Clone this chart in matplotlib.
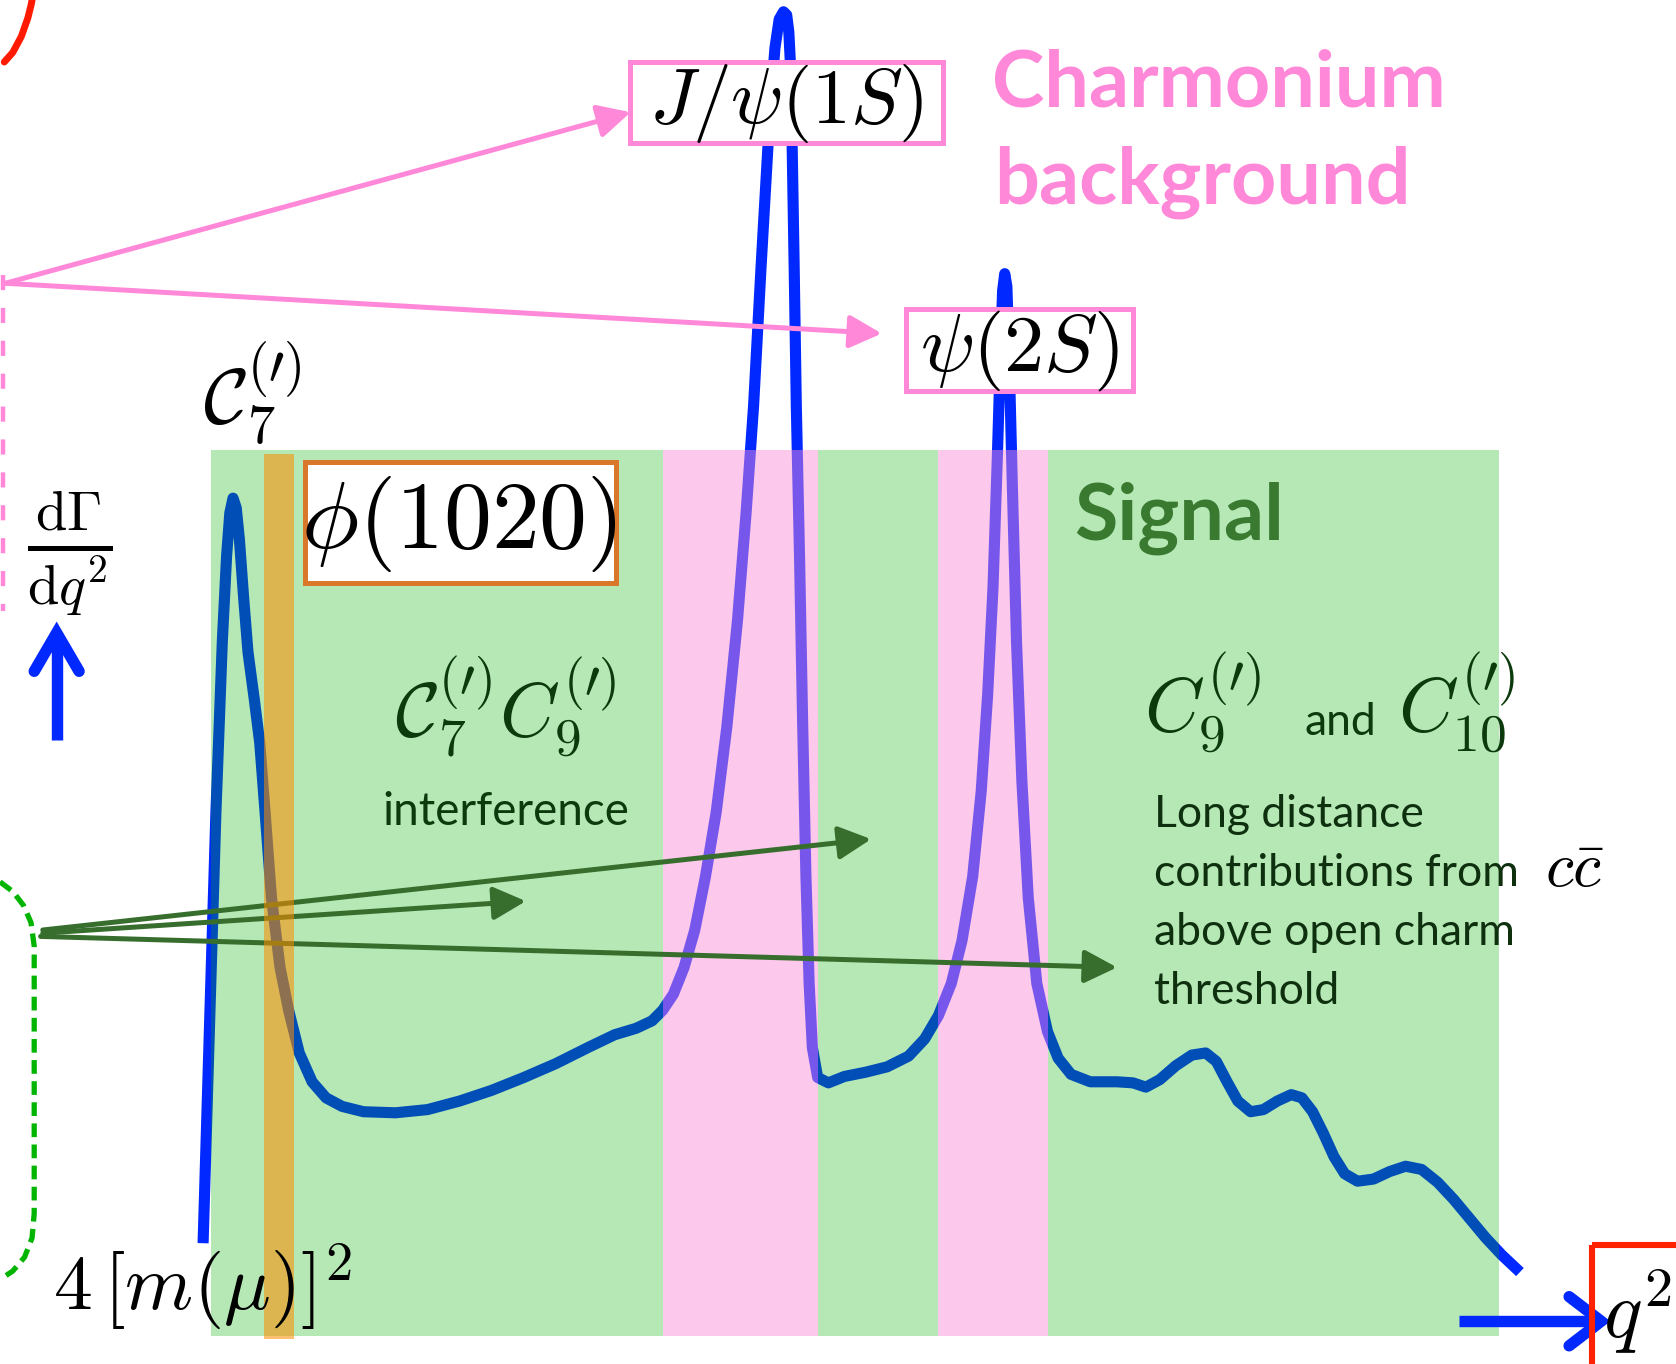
import matplotlib
matplotlib.use('Agg')
import matplotlib.pyplot as plt
from matplotlib.patches import Rectangle

plt.rcParams['mathtext.fontset'] = 'cm'

# canvas units (reference pixels, 1568 x 1276 view)
W, H = 1568, 1276

# ---- data: schematic dGamma/dq2 curve ----
curve_x = [190, 196, 202, 208, 212, 215, 218, 221, 224, 228, 232, 238, 243, 248, 254, 262,
           270, 280, 292, 305, 320, 340, 370, 400, 430, 460, 490, 520, 550, 575, 595, 610,
           620, 630, 640, 650, 660, 670, 680, 690, 698, 705, 712, 720, 725, 729, 733, 736,
           738, 740, 741, 743, 745, 748, 751, 754, 757, 760, 765, 775, 790, 810, 830, 850,
           865, 878, 890, 900, 910, 918, 924, 929, 933, 936, 938, 940, 942, 944, 947, 951,
           956, 962, 970, 980, 990, 1002, 1020, 1045, 1060, 1072, 1085, 1100, 1115, 1128,
           1138, 1148, 1158, 1170, 1182, 1195, 1208, 1218, 1228, 1238, 1248, 1258, 1270,
           1285, 1300, 1315, 1330, 1345, 1360, 1375, 1390, 1405, 1422]
curve_y = [1163, 960, 760, 600, 520, 480, 466, 475, 505, 560, 610, 655, 695, 760, 840, 905,
           945, 985, 1012, 1027, 1035, 1040, 1041, 1038, 1030, 1020, 1008, 995, 980, 968, 962, 955,
           945, 930, 905, 870, 820, 760, 680, 580, 480, 380, 250, 110, 45, 18, 11, 14,
           30, 70, 130, 250, 380, 520, 680, 820, 920, 980, 1008, 1013, 1007, 1003, 998, 988,
           972, 950, 920, 880, 820, 740, 650, 550, 430, 330, 272, 256, 268, 330, 450, 600,
           730, 840, 920, 965, 990, 1005, 1012, 1012, 1013, 1017, 1010, 997, 987, 985,
           993, 1012, 1030, 1040, 1038, 1030, 1024, 1027, 1040, 1060, 1082, 1098, 1105,
           1103, 1096, 1091, 1094, 1106, 1122, 1140, 1158, 1174, 1190]

# ---- data: q2 regions ----
green_bands = [(197, 620), (765, 878), (980, 1402)]
pink_bands = [(620, 765), (878, 980)]
band_top, band_bottom = 421, 1250
orange_band = (247, 275)
orange_top, orange_bottom = 425, 1253

# ---- labels ----
title_lines = ['Charmonium', 'background']
signal_label = 'Signal'
ld_lines = ['Long distance', 'contributions from', 'above open charm', 'threshold']

fig = plt.figure(figsize=(16.76, 13.64), dpi=100)
ax = fig.add_axes([0, 0, 1, 1])
ax.set_xlim(0, W)
ax.set_ylim(H, 0)
ax.axis('off')

BLUE = '#0028FF'
PINK = '#FF88D8'
DGREEN = '#376E2D'
TXTGREEN = '#0C3A0C'

# curve
ax.plot(curve_x, curve_y, color=BLUE, lw=8.0, solid_capstyle='butt',
        solid_joinstyle='round', zorder=2)

# bands
for x0, x1 in green_bands:
    ax.add_patch(Rectangle((x0, band_top), x1 - x0, band_bottom - band_top,
                           facecolor=(0, 175/255, 0, 0.286), edgecolor='none', zorder=3))
for x0, x1 in pink_bands:
    ax.add_patch(Rectangle((x0, band_top), x1 - x0, band_bottom - band_top,
                           facecolor=(250/255, 140/255, 215/255, 0.48), edgecolor='none', zorder=4))
ax.add_patch(Rectangle((orange_band[0], orange_top), orange_band[1] - orange_band[0],
                       orange_bottom - orange_top,
                       facecolor=(252/255, 140/255, 0, 0.555), edgecolor='none', zorder=6))

# dark green arrows (between pink and orange)
for src, tgt in [((40, 873), (492, 843)), ((40, 870), (815, 785)), ((38, 876), (1045, 905))]:
    ax.annotate('', xy=tgt, xytext=src,
                arrowprops=dict(arrowstyle='-|>,head_length=0.55,head_width=0.28',
                                color=DGREEN, lw=3.6, mutation_scale=36,
                                shrinkA=0, shrinkB=0), zorder=5)

# pink arrows
p0 = (5, 265)
for tgt in [(590, 105), (825, 312)]:
    ax.annotate('', xy=tgt, xytext=p0,
                arrowprops=dict(arrowstyle='-|>,head_length=0.55,head_width=0.28',
                                color=PINK, lw=3.6, mutation_scale=36,
                                shrinkA=0, shrinkB=0), zorder=7)

# pink dashed vertical
ax.plot([3, 3], [257, 572], color=PINK, lw=3.2, dashes=(3.4, 4.0), zorder=7)

# green dashed bracket
bx = [0, 12, 22, 29, 32, 32, 30, 23, 12, 0]
by = [825, 834, 847, 863, 885, 1135, 1158, 1176, 1189, 1197]
ax.plot(bx, by, color='#00B400', lw=3.8, dashes=(2.6, 1.4), zorder=7)

# red arc top-left
ax.plot([4, 12, 20, 26, 29, 30], [58, 49, 34, 17, 5, 0], color='#FF1A00', lw=5, zorder=7,
        solid_capstyle='round')

# blue axis arrows (shaft + chevron head)
arrow_kw = dict(color=BLUE, lw=8.2, zorder=7, solid_capstyle='round', solid_joinstyle='miter')
ax.plot([53, 53], [692, 598], color=BLUE, lw=8.2, solid_capstyle='butt', zorder=7)
ax.plot([32, 53, 74], [628, 592, 628], **arrow_kw)
ax.plot([1365, 1492], [1236, 1236], color=BLUE, lw=8.2, solid_capstyle='butt', zorder=7)
ax.plot([1468, 1498, 1468], [1213, 1236, 1259], **arrow_kw)

# boxes
ax.add_patch(Rectangle((589, 58), 293, 76, facecolor='white', edgecolor=PINK, lw=3.6, zorder=8))
ax.add_patch(Rectangle((848, 289), 212, 77, facecolor='white', edgecolor=PINK, lw=3.6, zorder=8))
ax.add_patch(Rectangle((285, 432), 291, 113, facecolor='white', edgecolor='#D9782A', lw=3.6, zorder=8))
ax.add_patch(Rectangle((1489, 1165), 90, 130, facecolor='none', edgecolor='#FF2200', lw=4.4,
                       zorder=8, clip_on=False))

# texts
ax.text(928, 100, title_lines[0], color=PINK, fontsize=57, family='Lato',
        fontweight='bold', va='baseline', zorder=9)
ax.text(930, 190, title_lines[1], color=PINK, fontsize=57, family='Lato',
        fontweight='bold', va='baseline', zorder=9)

ax.text(735, 97, r'$J/\psi(1S)$', fontsize=56, ha='center', va='center', zorder=9)
ax.text(954, 328, r'$\psi(2S)$', fontsize=58, ha='center', va='center', zorder=9)
ax.text(429, 490, r'$\phi(1020)$', fontsize=69, ha='center', va='center', zorder=9)

ax.text(190, 397, r'$\mathcal{C}_7^{(\prime)}$', fontsize=56, va='baseline', zorder=9)
ax.text(65, 517, r'$\frac{\mathrm{d}\Gamma}{\mathrm{d}q^2}$', fontsize=58, ha='center',
        va='center', zorder=9)

ax.text(1005, 505, signal_label, color='#3A7A30', fontsize=57, family='Lato',
        fontweight='bold', va='baseline', zorder=9)

ax.text(370, 690, r'$\mathcal{C}_7^{(\prime)}C_9^{(\prime)}$', color=TXTGREEN, fontsize=55,
        va='baseline', zorder=9)
ax.text(358, 772, 'interference', color=TXTGREEN, fontsize=33, family='Lato',
        va='baseline', zorder=9)

ax.text(1070, 684, r'$C_9^{(\prime)}$', color=TXTGREEN, fontsize=55, va='baseline', zorder=9)
ax.text(1220, 688, 'and', color=TXTGREEN, fontsize=32, family='Lato', va='baseline', zorder=9)
ax.text(1308, 684, r'$C_{10}^{(\prime)}$', color=TXTGREEN, fontsize=55, va='baseline', zorder=9)

for i, line in enumerate(ld_lines):
    ax.text(1080, 774 + 55 * i, line, color='#0E300E', fontsize=32, family='Lato',
            va='baseline', zorder=9)
ax.text(1445, 830, r'$c\bar{c}$', color='black', fontsize=46, va='baseline', zorder=9)

ax.text(50, 1226, r'$4\,[m(\mu)]^2$', color='black', fontsize=56, va='baseline', zorder=9)
ax.text(1500, 1252, r'$q^2$', color='black', fontsize=58, va='baseline', zorder=9)

fig.savefig('out.png', dpi=100)
